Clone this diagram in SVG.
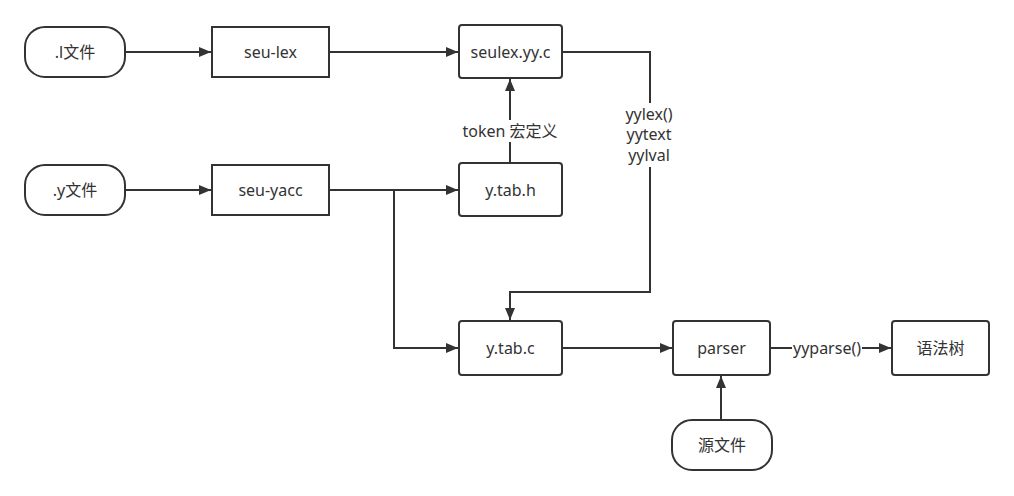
<svg xmlns="http://www.w3.org/2000/svg" width="1014" height="496" viewBox="0 0 1014 496">
<style>
.n{fill:#fff;stroke:#333;stroke-width:2}
.t{font-family:"Noto Sans","Noto Sans CJK SC",sans-serif;font-size:16px;fill:#333;text-anchor:middle;dominant-baseline:central}
.c{fill:none;stroke:#333;stroke-width:2}
.lbl{font-family:"Noto Sans","Noto Sans CJK SC",sans-serif;font-size:16px;fill:#333;text-anchor:middle;dominant-baseline:central}
</style>
<defs>
<marker id="a" viewBox="0 0 12 10" refX="12" refY="5" markerWidth="12" markerHeight="10" markerUnits="userSpaceOnUse" orient="auto">
<path d="M0,0 L12,5 L0,10 z" fill="#333"/>
</marker>
</defs>
<rect width="1014" height="496" fill="#fff"/>
<g id="connectors">
<path class="c" d="M125,52 H211" marker-end="url(#a)"/>
<path class="c" d="M329,52 H458" marker-end="url(#a)"/>
<path class="c" d="M125,190 H211" marker-end="url(#a)"/>
<path class="c" d="M329,190 H458" marker-end="url(#a)"/>
<path class="c" d="M394,190 V348 H458" marker-end="url(#a)"/>
<path class="c" d="M510,163 V79" marker-end="url(#a)"/>
<rect x="458" y="120" width="104" height="22" fill="#fff"/>
<text class="lbl" x="510" y="131">token 宏定义</text>
<path class="c" d="M562,52 H650 V292 H510 V320" marker-end="url(#a)"/>
<rect x="620" y="103" width="60" height="64" fill="#fff"/>
<text class="lbl" x="649" y="114">yylex()</text>
<text class="lbl" x="649" y="134">yytext</text>
<text class="lbl" x="649" y="155">yylval</text>
<path class="c" d="M562,348 H672" marker-end="url(#a)"/>
<path class="c" d="M770,348 H891" marker-end="url(#a)"/>
<rect x="792" y="338" width="70" height="20" fill="#fff"/>
<text class="lbl" x="827" y="348">yyparse()</text>
<path class="c" d="M721,420 V376" marker-end="url(#a)"/>
</g>
<g id="l-file"><rect class="n" x="25" y="27" width="100" height="50" rx="20"/><text class="t" x="75" y="52">.l文件</text></g>
<g id="seu-lex"><rect class="n" x="212" y="27" width="117" height="50"/><text class="t" x="270.5" y="52">seu-lex</text></g>
<g id="seulex-yy-c"><rect class="n" x="459" y="25" width="103" height="53" rx="3"/><text class="t" x="510.5" y="52">seulex.yy.c</text></g>
<g id="y-file"><rect class="n" x="25" y="165" width="100" height="50" rx="20"/><text class="t" x="75" y="190">.y文件</text></g>
<g id="seu-yacc"><rect class="n" x="212" y="165" width="117" height="50"/><text class="t" x="270.5" y="190">seu-yacc</text></g>
<g id="y-tab-h"><rect class="n" x="459" y="163" width="103" height="53" rx="3"/><text class="t" x="510.5" y="190">y.tab.h</text></g>
<g id="y-tab-c"><rect class="n" x="459" y="321" width="103" height="54" rx="3"/><text class="t" x="510.5" y="348">y.tab.c</text></g>
<g id="parser"><rect class="n" x="673" y="321" width="97" height="54" rx="3"/><text class="t" x="721.5" y="348">parser</text></g>
<g id="syntax-tree"><rect class="n" x="892" y="321" width="97" height="54" rx="3"/><text class="t" x="940.5" y="348">语法树</text></g>
<g id="source-file"><rect class="n" x="672" y="420" width="100" height="50" rx="20"/><text class="t" x="722" y="445">源文件</text></g>
</svg>
